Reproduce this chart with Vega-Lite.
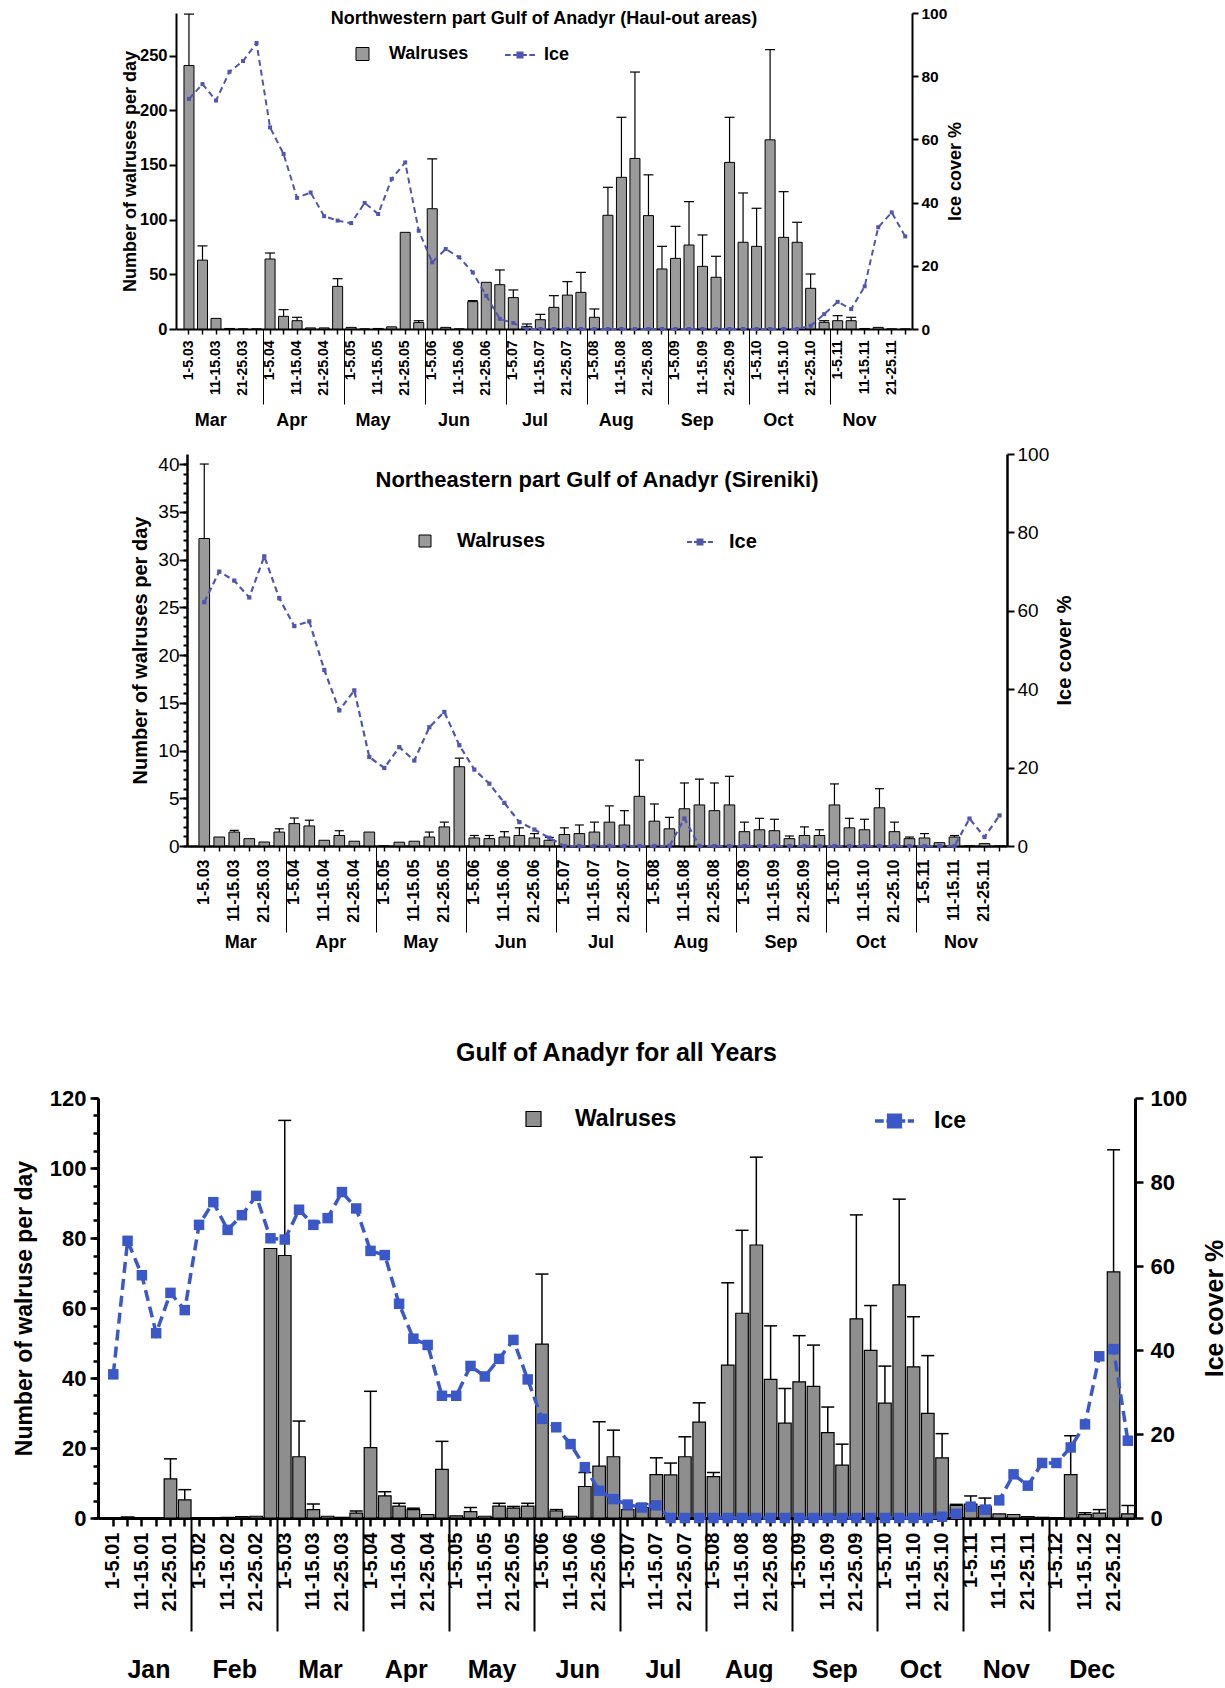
{
"$schema": "https://vega.github.io/schema/vega-lite/v6.json",
"background": "white",
"padding": {"left": 13, "top": 6, "right": 0, "bottom": 0},
"config": {
 "font": "Liberation Sans",
 "view": {"stroke": null},
 "axis": {"grid": false, "domainColor": "black", "tickColor": "black", "labelColor": "black", "titleColor": "black", "labelOverlap": false},
 "legend": {"labelColor": "black", "padding": 0},
 "title": {"color": "black"}
},
"datasets": {
"p1": [
{"pentad":"1-5.03","month":"Mar","walruses":241,"upper":288,"ice":72.8},
{"pentad":"6-10.03","month":"Mar","walruses":63,"upper":76,"ice":77.5},
{"pentad":"11-15.03","month":"Mar","walruses":9.7,"ice":72.3},
{"pentad":"16-20.03","month":"Mar","walruses":0.5,"ice":81.4},
{"pentad":"21-25.03","month":"Mar","walruses":0,"ice":84.8},
{"pentad":"26-31.03","month":"Mar","walruses":0,"ice":90.5},
{"pentad":"1-5.04","month":"Apr","walruses":64,"upper":69.5,"ice":63.8},
{"pentad":"6-10.04","month":"Apr","walruses":11.6,"upper":17.7,"ice":55.4},
{"pentad":"11-15.04","month":"Apr","walruses":7.6,"upper":10.7,"ice":41.5},
{"pentad":"16-20.04","month":"Apr","walruses":1,"ice":43.2},
{"pentad":"21-25.04","month":"Apr","walruses":1,"ice":35.7},
{"pentad":"26-30.04","month":"Apr","walruses":39,"upper":46,"ice":34.3},
{"pentad":"1-5.05","month":"May","walruses":1.5,"ice":33.5},
{"pentad":"6-10.05","month":"May","walruses":0,"ice":39.9},
{"pentad":"11-15.05","month":"May","walruses":0.5,"ice":36.4},
{"pentad":"16-20.05","month":"May","walruses":2,"ice":47.5},
{"pentad":"21-25.05","month":"May","walruses":88.4,"ice":52.7},
{"pentad":"26-31.05","month":"May","walruses":6,"upper":7.6,"ice":31.1},
{"pentad":"1-5.06","month":"Jun","walruses":110,"upper":155.5,"ice":21.1},
{"pentad":"6-10.06","month":"Jun","walruses":1.5,"ice":25.3},
{"pentad":"11-15.06","month":"Jun","walruses":0,"ice":22.7},
{"pentad":"16-20.06","month":"Jun","walruses":25,"upper":26,"ice":17.9},
{"pentad":"21-25.06","month":"Jun","walruses":42.7,"ice":10.5},
{"pentad":"26-30.06","month":"Jun","walruses":40.5,"upper":54,"ice":3.2},
{"pentad":"1-5.07","month":"Jul","walruses":28.7,"upper":35.7,"ice":1.9},
{"pentad":"6-10.07","month":"Jul","walruses":2.4,"upper":4.6,"ice":0},
{"pentad":"11-15.07","month":"Jul","walruses":8.5,"upper":13.4,"ice":0},
{"pentad":"16-20.07","month":"Jul","walruses":19.8,"upper":30.5,"ice":0},
{"pentad":"21-25.07","month":"Jul","walruses":31,"upper":43.3,"ice":0},
{"pentad":"26-31.07","month":"Jul","walruses":33.5,"upper":51.8,"ice":0},
{"pentad":"1-5.08","month":"Aug","walruses":10.7,"upper":18.3,"ice":0},
{"pentad":"6-10.08","month":"Aug","walruses":104,"upper":129.6,"ice":0},
{"pentad":"11-15.08","month":"Aug","walruses":138.7,"upper":193.6,"ice":0},
{"pentad":"16-20.08","month":"Aug","walruses":156,"upper":235,"ice":0},
{"pentad":"21-25.08","month":"Aug","walruses":103.7,"upper":141,"ice":0},
{"pentad":"26-31.08","month":"Aug","walruses":54.9,"upper":75.6,"ice":0},
{"pentad":"1-5.09","month":"Sep","walruses":64.6,"upper":93.9,"ice":0},
{"pentad":"6-10.09","month":"Sep","walruses":76.8,"upper":116.5,"ice":0},
{"pentad":"11-15.09","month":"Sep","walruses":57.3,"upper":86,"ice":0},
{"pentad":"16-20.09","month":"Sep","walruses":47.3,"upper":66.5,"ice":0},
{"pentad":"21-25.09","month":"Sep","walruses":152.4,"upper":193.6,"ice":0},
{"pentad":"26-30.09","month":"Sep","walruses":79.3,"upper":124.4,"ice":0},
{"pentad":"1-5.10","month":"Oct","walruses":75.6,"upper":110.4,"ice":0},
{"pentad":"6-10.10","month":"Oct","walruses":173,"upper":255.5,"ice":0},
{"pentad":"11-15.10","month":"Oct","walruses":83.8,"upper":125.6,"ice":0},
{"pentad":"16-20.10","month":"Oct","walruses":79.3,"upper":97.6,"ice":0},
{"pentad":"21-25.10","month":"Oct","walruses":37.2,"upper":50.3,"ice":1},
{"pentad":"26-31.10","month":"Oct","walruses":6.1,"upper":7.6,"ice":4.7},
{"pentad":"1-5.11","month":"Nov","walruses":7.6,"upper":12.2,"ice":8.6},
{"pentad":"6-10.11","month":"Nov","walruses":7.6,"upper":10.7,"ice":6.3},
{"pentad":"11-15.11","month":"Nov","walruses":0.5,"ice":13.5},
{"pentad":"16-20.11","month":"Nov","walruses":1.5,"ice":32.2},
{"pentad":"21-25.11","month":"Nov","walruses":0,"ice":36.9},
{"pentad":"26-30.11","month":"Nov","walruses":0,"ice":29.3}
],
"p2": [
{"pentad":"1-5.03","month":"Mar","walruses":32.2,"upper":40,"ice":62.2},
{"pentad":"6-10.03","month":"Mar","walruses":0.94,"ice":70},
{"pentad":"11-15.03","month":"Mar","walruses":1.46,"upper":1.64,"ice":67.7},
{"pentad":"16-20.03","month":"Mar","walruses":0.77,"ice":63.4},
{"pentad":"21-25.03","month":"Mar","walruses":0.42,"ice":73.9},
{"pentad":"26-31.03","month":"Mar","walruses":1.46,"upper":1.8,"ice":63.2},
{"pentad":"1-5.04","month":"Apr","walruses":2.34,"upper":2.93,"ice":56.1},
{"pentad":"6-10.04","month":"Apr","walruses":2.1,"upper":2.7,"ice":57.3},
{"pentad":"11-15.04","month":"Apr","walruses":0.6,"ice":44.9},
{"pentad":"16-20.04","month":"Apr","walruses":1.1,"upper":1.6,"ice":34.6},
{"pentad":"21-25.04","month":"Apr","walruses":0.5,"ice":39.7},
{"pentad":"26-30.04","month":"Apr","walruses":1.46,"ice":22.7},
{"pentad":"1-5.05","month":"May","walruses":0,"ice":19.9},
{"pentad":"6-10.05","month":"May","walruses":0.4,"ice":25.2},
{"pentad":"11-15.05","month":"May","walruses":0.5,"ice":21.8},
{"pentad":"16-20.05","month":"May","walruses":0.94,"upper":1.46,"ice":30.3},
{"pentad":"21-25.05","month":"May","walruses":2,"upper":2.5,"ice":34.2},
{"pentad":"26-31.05","month":"May","walruses":8.3,"upper":9.2,"ice":25.7},
{"pentad":"1-5.06","month":"Jun","walruses":0.84,"upper":1.1,"ice":19.5},
{"pentad":"6-10.06","month":"Jun","walruses":0.77,"upper":1.1,"ice":15.9},
{"pentad":"11-15.06","month":"Jun","walruses":0.94,"upper":1.5,"ice":11},
{"pentad":"16-20.06","month":"Jun","walruses":1.1,"upper":1.9,"ice":6.1},
{"pentad":"21-25.06","month":"Jun","walruses":0.84,"upper":1.3,"ice":4.2},
{"pentad":"26-30.06","month":"Jun","walruses":0.6,"upper":0.9,"ice":2.1},
{"pentad":"1-5.07","month":"Jul","walruses":1.2,"upper":1.9,"ice":0},
{"pentad":"6-10.07","month":"Jul","walruses":1.3,"upper":2.2,"ice":0},
{"pentad":"11-15.07","month":"Jul","walruses":1.46,"upper":2.5,"ice":0},
{"pentad":"16-20.07","month":"Jul","walruses":2.5,"upper":4.2,"ice":0},
{"pentad":"21-25.07","month":"Jul","walruses":2.2,"upper":3.7,"ice":0},
{"pentad":"26-31.07","month":"Jul","walruses":5.2,"upper":9,"ice":0},
{"pentad":"1-5.08","month":"Aug","walruses":2.6,"upper":4.4,"ice":0},
{"pentad":"6-10.08","month":"Aug","walruses":1.8,"upper":3,"ice":0},
{"pentad":"11-15.08","month":"Aug","walruses":3.9,"upper":6.6,"ice":7},
{"pentad":"16-20.08","month":"Aug","walruses":4.3,"upper":7,"ice":0},
{"pentad":"21-25.08","month":"Aug","walruses":3.7,"upper":6.6,"ice":0},
{"pentad":"26-31.08","month":"Aug","walruses":4.3,"upper":7.3,"ice":0},
{"pentad":"1-5.09","month":"Sep","walruses":1.5,"upper":2.5,"ice":0},
{"pentad":"6-10.09","month":"Sep","walruses":1.7,"upper":2.9,"ice":0},
{"pentad":"11-15.09","month":"Sep","walruses":1.6,"upper":2.8,"ice":0},
{"pentad":"16-20.09","month":"Sep","walruses":0.77,"upper":1.05,"ice":0},
{"pentad":"21-25.09","month":"Sep","walruses":1.1,"upper":2,"ice":0},
{"pentad":"26-30.09","month":"Sep","walruses":1.1,"upper":1.7,"ice":0},
{"pentad":"1-5.10","month":"Oct","walruses":4.3,"upper":6.5,"ice":0},
{"pentad":"6-10.10","month":"Oct","walruses":1.9,"upper":2.9,"ice":0},
{"pentad":"11-15.10","month":"Oct","walruses":1.7,"upper":2.8,"ice":0},
{"pentad":"16-20.10","month":"Oct","walruses":4,"upper":6,"ice":0},
{"pentad":"21-25.10","month":"Oct","walruses":1.5,"upper":2.5,"ice":0},
{"pentad":"26-31.10","month":"Oct","walruses":0.77,"upper":0.94,"ice":0},
{"pentad":"1-5.11","month":"Nov","walruses":0.84,"upper":1.3,"ice":0},
{"pentad":"6-10.11","month":"Nov","walruses":0.35,"ice":0},
{"pentad":"11-15.11","month":"Nov","walruses":0.94,"upper":1.1,"ice":0},
{"pentad":"16-20.11","month":"Nov","walruses":0,"ice":7},
{"pentad":"21-25.11","month":"Nov","walruses":0.25,"ice":2.3},
{"pentad":"26-30.11","month":"Nov","walruses":0,"ice":7.8}
],
"p3": [
{"pentad":"1-5.01","month":"Jan","walruses":0,"ice":34.2},
{"pentad":"6-10.01","month":"Jan","walruses":0.3,"ice":66},
{"pentad":"11-15.01","month":"Jan","walruses":0,"ice":57.8},
{"pentad":"16-20.01","month":"Jan","walruses":0,"ice":44},
{"pentad":"21-25.01","month":"Jan","walruses":11.2,"upper":16.9,"ice":53.6},
{"pentad":"26-31.01","month":"Jan","walruses":5.2,"upper":8.1,"ice":49.5},
{"pentad":"1-5.02","month":"Feb","walruses":0,"ice":69.8},
{"pentad":"6-10.02","month":"Feb","walruses":0,"ice":75.2},
{"pentad":"11-15.02","month":"Feb","walruses":0.2,"ice":68.6},
{"pentad":"16-20.02","month":"Feb","walruses":0.4,"ice":72.1},
{"pentad":"21-25.02","month":"Feb","walruses":0.5,"ice":76.7},
{"pentad":"26-28.02","month":"Feb","walruses":77,"ice":66.6},
{"pentad":"1-5.03","month":"Mar","walruses":75,"upper":113.6,"ice":66.3},
{"pentad":"6-10.03","month":"Mar","walruses":17.5,"upper":27.7,"ice":73.4},
{"pentad":"11-15.03","month":"Mar","walruses":2.4,"upper":4,"ice":69.8},
{"pentad":"16-20.03","month":"Mar","walruses":0.5,"ice":71.4},
{"pentad":"21-25.03","month":"Mar","walruses":0.2,"ice":77.6},
{"pentad":"26-31.03","month":"Mar","walruses":1.4,"upper":2,"ice":73.7},
{"pentad":"1-5.04","month":"Apr","walruses":20.1,"upper":36.2,"ice":63.6},
{"pentad":"6-10.04","month":"Apr","walruses":6.3,"upper":7.5,"ice":62.6},
{"pentad":"11-15.04","month":"Apr","walruses":3.4,"upper":4.2,"ice":51},
{"pentad":"16-20.04","month":"Apr","walruses":2.4,"upper":2.8,"ice":42.7},
{"pentad":"21-25.04","month":"Apr","walruses":1,"ice":41.2},
{"pentad":"26-30.04","month":"Apr","walruses":13.9,"upper":21.9,"ice":29.1},
{"pentad":"1-5.05","month":"May","walruses":0.6,"ice":29.1},
{"pentad":"6-10.05","month":"May","walruses":1.8,"upper":3,"ice":36.2},
{"pentad":"11-15.05","month":"May","walruses":0.5,"ice":33.7},
{"pentad":"16-20.05","month":"May","walruses":3.4,"upper":4.2,"ice":37.9},
{"pentad":"21-25.05","month":"May","walruses":2.8,"upper":3.3,"ice":42.4},
{"pentad":"26-31.05","month":"May","walruses":3.4,"upper":4.2,"ice":33},
{"pentad":"1-5.06","month":"Jun","walruses":49.7,"upper":69.7,"ice":23.6},
{"pentad":"6-10.06","month":"Jun","walruses":2,"upper":2.4,"ice":21.6},
{"pentad":"11-15.06","month":"Jun","walruses":0.5,"ice":17.6},
{"pentad":"16-20.06","month":"Jun","walruses":9,"upper":13,"ice":12.1},
{"pentad":"21-25.06","month":"Jun","walruses":14.8,"upper":27.5,"ice":6.5},
{"pentad":"26-30.06","month":"Jun","walruses":17.5,"upper":25.1,"ice":4.5},
{"pentad":"1-5.07","month":"Jul","walruses":2.4,"ice":3.2},
{"pentad":"6-10.07","month":"Jul","walruses":3,"upper":4,"ice":2.5},
{"pentad":"11-15.07","month":"Jul","walruses":12.4,"upper":17.2,"ice":3},
{"pentad":"16-20.07","month":"Jul","walruses":12.3,"upper":15.7,"ice":0},
{"pentad":"21-25.07","month":"Jul","walruses":17.5,"upper":23.2,"ice":0},
{"pentad":"26-31.07","month":"Jul","walruses":27.4,"upper":32.9,"ice":0},
{"pentad":"1-5.08","month":"Aug","walruses":11.8,"upper":13,"ice":0},
{"pentad":"6-10.08","month":"Aug","walruses":43.7,"upper":67.2,"ice":0},
{"pentad":"11-15.08","month":"Aug","walruses":58.5,"upper":82.2,"ice":0},
{"pentad":"16-20.08","month":"Aug","walruses":78,"upper":103.1,"ice":0},
{"pentad":"21-25.08","month":"Aug","walruses":39.6,"upper":54.9,"ice":0},
{"pentad":"26-31.08","month":"Aug","walruses":27.1,"upper":37,"ice":0},
{"pentad":"1-5.09","month":"Sep","walruses":38.9,"upper":52.1,"ice":0},
{"pentad":"6-10.09","month":"Sep","walruses":37.6,"upper":49.4,"ice":0},
{"pentad":"11-15.09","month":"Sep","walruses":24.4,"upper":31.7,"ice":0},
{"pentad":"16-20.09","month":"Sep","walruses":15.1,"upper":21.1,"ice":0},
{"pentad":"21-25.09","month":"Sep","walruses":56.9,"upper":86.6,"ice":0},
{"pentad":"26-30.09","month":"Sep","walruses":47.9,"upper":60.7,"ice":0},
{"pentad":"1-5.10","month":"Oct","walruses":32.8,"upper":43.4,"ice":0},
{"pentad":"6-10.10","month":"Oct","walruses":66.6,"upper":91.1,"ice":0},
{"pentad":"11-15.10","month":"Oct","walruses":43.2,"upper":57.5,"ice":0},
{"pentad":"16-20.10","month":"Oct","walruses":29.9,"upper":46.4,"ice":0},
{"pentad":"21-25.10","month":"Oct","walruses":17.2,"upper":24.1,"ice":0.3},
{"pentad":"26-31.10","month":"Oct","walruses":3.6,"upper":3.9,"ice":1},
{"pentad":"1-5.11","month":"Nov","walruses":4,"upper":6.3,"ice":2.7},
{"pentad":"6-10.11","month":"Nov","walruses":3.3,"upper":5.7,"ice":2},
{"pentad":"11-15.11","month":"Nov","walruses":1.2,"ice":4.2},
{"pentad":"16-20.11","month":"Nov","walruses":1,"ice":10.4},
{"pentad":"21-25.11","month":"Nov","walruses":0.4,"ice":7.7},
{"pentad":"26-30.11","month":"Nov","walruses":0.2,"ice":13.1},
{"pentad":"1-5.12","month":"Dec","walruses":0,"ice":13.1},
{"pentad":"6-10.12","month":"Dec","walruses":12.4,"upper":23.5,"ice":16.8},
{"pentad":"11-15.12","month":"Dec","walruses":1,"upper":1.5,"ice":22.3},
{"pentad":"16-20.12","month":"Dec","walruses":1.4,"upper":2.4,"ice":38.5},
{"pentad":"21-25.12","month":"Dec","walruses":70.3,"upper":105.2,"ice":40.2},
{"pentad":"26-31.12","month":"Dec","walruses":1.2,"upper":3.6,"ice":18.4}
]
},
"resolve": {"scale": {"fill": "independent", "stroke": "independent"}, "legend": {"fill": "independent", "stroke": "independent"}},
"spacing": 90,
"vconcat": [
{
 "spacing": 15,
 "resolve": {"scale": {"fill": "independent", "stroke": "independent"}, "legend": {"fill": "independent", "stroke": "independent"}},
 "vconcat": [
 {
  "spacing": 0,
  "resolve": {"scale": {"fill": "independent", "stroke": "independent"}, "legend": {"fill": "independent", "stroke": "independent"}},
  "hconcat": [
  {"width": 23, "height": 1, "data": {"values": []}, "mark": "point"},
  {
   "width": 736, "height": 316,
   "data": {"name": "p1"},
   "title": {"text": "Northwestern part Gulf of Anadyr (Haul-out areas)", "fontSize": 18, "fontWeight": "bold", "offset": -22},
   "layer": [
    {
     "layer": [
      {
       "layer": [
        {
         "mark": {"type": "bar", "stroke": "black", "strokeWidth": 1, "width": {"band": 0.74}},
         "encoding": {
          "x": {"field": "pentad", "type": "nominal", "sort": null,
                "scale": {"type": "band", "paddingInner": 0, "paddingOuter": 0.23, "align": 1},
                "axis": {"orient": "bottom", "title": null, "labelAngle": -90, "labelAlign": "right", "labelBaseline": "middle",
                         "labelExpr": "(slice(datum.value,0,2)=='6-'||slice(datum.value,0,3)=='16-'||slice(datum.value,0,3)=='26-')?'':datum.value",
                         "labelFontSize": 14, "labelFontWeight": "bold", "labelOverlap": false, "labelPadding": 6,
                         "tickSize": 5, "tickWidth": 1.5, "domainWidth": 2}},
          "y": {"field": "walruses", "type": "quantitative", "scale": {"domain": [0, 289], "nice": false},
                "axis": {"orient": "left", "title": "Number of walruses per day", "values": [0, 50, 100, 150, 200, 250],
                         "tickSize": 7, "tickWidth": 2, "domainWidth": 2, "labelPadding": 2, "labelFontSize": 16.5, "labelFontWeight": "bold",
                         "titleFontSize": 18, "titleFontWeight": "bold", "titlePadding": 0}},
          "fill": {"datum": "Walruses", "type": "nominal", "scale": {"domain": ["Walruses"], "range": ["#9a9a9a"]},
                   "legend": {"title": null, "orient": "none", "legendX": 177.5, "legendY": 32, "symbolType": "square", "symbolSize": 169,
                              "symbolStrokeColor": "black", "symbolStrokeWidth": 1, "labelFontSize": 18, "labelFontWeight": "bold", "labelOffset": 17.5}}
         }
        },
        {
         "transform": [{"filter": "isValid(datum.upper)"}],
         "mark": {"type": "rule", "color": "black", "strokeWidth": 1.2},
         "encoding": {
          "x": {"field": "pentad", "type": "nominal", "sort": null},
          "y": {"field": "walruses", "type": "quantitative"},
          "y2": {"field": "upper"}
         }
        },
        {
         "transform": [{"filter": "isValid(datum.upper)"}],
         "mark": {"type": "tick", "color": "black", "thickness": 1.2, "size": 10, "opacity": 1},
         "encoding": {
          "x": {"field": "pentad", "type": "nominal", "sort": null},
          "y": {"field": "upper", "type": "quantitative"}
         }
        }
       ]
      },
      {
       "layer": [
        {
         "mark": {"type": "line", "strokeDash": [6, 4], "strokeWidth": 2},
         "encoding": {
          "x": {"field": "pentad", "type": "nominal", "sort": null},
          "y": {"field": "ice", "type": "quantitative", "scale": {"domain": [0, 100], "nice": false},
                "axis": {"orient": "right", "title": "Ice cover %", "values": [0, 10, 20, 30, 40, 50, 60, 70, 80, 90, 100],
                         "labelExpr": "datum.value % 20 === 0 ? datum.label : ''",
                         "tickSize": {"condition": {"test": "datum.value % 20 !== 0", "value": 4}, "value": 6},
                         "tickWidth": 2, "domainWidth": 2, "labelPadding": 3, "labelFontSize": 15.5, "labelFontWeight": "bold",
                         "titleFontSize": 18, "titleFontWeight": "bold", "titleAngle": 270, "titleBaseline": "top", "titlePadding": 0}},
          "stroke": {"datum": "Ice", "type": "nominal", "scale": {"domain": ["Ice"], "range": ["#5055b0"]},
                     "legend": {"title": null, "orient": "none", "legendX": 328, "legendY": 26,
                                "symbolType": "M-1,0H-0.62M-0.46,0H-0.17M0.17,0H0.46M0.62,0H1M-0.17,-0.17H0.17V0.17H-0.17Z",
                                "symbolSize": 900, "symbolStrokeWidth": 2, "symbolFillColor": "#5055b0", "symbolStrokeColor": "#5055b0",
                                "labelFontSize": 18, "labelFontWeight": "bold", "labelOffset": 8}}
         }
        },
        {
         "mark": {"type": "square", "size": 16, "color": "#5055b0", "opacity": 1, "filled": true},
         "encoding": {
          "x": {"field": "pentad", "type": "nominal", "sort": null},
          "y": {"field": "ice", "type": "quantitative"}
         }
        }
       ]
      }
     ],
     "resolve": {"scale": {"y": "independent"}}
    },
    {
     "mark": {"type": "rule", "opacity": 0},
     "encoding": {
      "x": {"field": "month", "type": "nominal", "sort": null,
            "scale": {"type": "band", "paddingInner": 0, "paddingOuter": 0.03833, "align": 1},
            "axis": {"orient": "bottom", "title": null, "domain": false, "bandPosition": 0, "tickSize": 75, "tickWidth": 1,
                     "tickOpacity": {"condition": {"test": "datum.value === 'Mar'", "value": 0}, "value": 1},
                     "labelAngle": 0, "labelAlign": "center", "labelBaseline": "top", "labelOffset": -12, "labelPadding": 7.3,
                     "labelFontSize": 18, "labelFontWeight": "bold", "labelOverlap": false}}
     }
    }
   ],
   "resolve": {"scale": {"x": "independent"}}
  }
  ]
 },
 {
  "spacing": 0,
  "resolve": {"scale": {"fill": "independent", "stroke": "independent"}, "legend": {"fill": "independent", "stroke": "independent"}},
  "hconcat": [
  {"width": 32, "height": 1, "data": {"values": []}, "mark": "point"},
  {
   "width": 820, "height": 392,
   "data": {"name": "p2"},
   "title": {"text": "Northeastern part Gulf of Anadyr (Sireniki)", "fontSize": 22, "fontWeight": "bold", "offset": -47},
   "layer": [
    {
     "layer": [
      {
       "layer": [
        {
         "mark": {"type": "bar", "stroke": "black", "strokeWidth": 1, "width": {"band": 0.71}},
         "encoding": {
          "x": {"field": "pentad", "type": "nominal", "sort": null,
                "scale": {"type": "band", "paddingInner": 0, "paddingOuter": 0.325, "align": 1},
                "axis": {"orient": "bottom", "title": null, "labelAngle": -90, "labelAlign": "right", "labelBaseline": "middle",
                         "labelExpr": "(slice(datum.value,0,2)=='6-'||slice(datum.value,0,3)=='16-'||slice(datum.value,0,3)=='26-')?'':datum.value",
                         "labelFontSize": 16, "labelFontWeight": "bold", "labelOverlap": false, "labelPadding": 8,
                         "tickSize": 5, "tickWidth": 1.5, "domainWidth": 2.5}},
          "y": {"field": "walruses", "type": "quantitative", "scale": {"domain": [0, 41.05], "nice": false},
                "axis": {"orient": "left", "title": "Number of walruses per day",
                         "values": [0, 5, 10, 15, 20, 25, 30, 35, 40],
                         "tickSize": 8, "tickWidth": 2, "domainWidth": 2.5, "labelPadding": 0, "labelFontSize": 19, "labelFontWeight": "normal",
                         "titleFontSize": 20, "titleFontWeight": "bold", "titlePadding": 7}},
          "fill": {"datum": "Walruses", "type": "nominal", "scale": {"domain": ["Walruses"], "range": ["#9a9a9a"]},
                   "legend": {"title": null, "orient": "none", "legendX": 228, "legendY": 77, "symbolType": "square", "symbolSize": 144,
                              "symbolStrokeColor": "black", "symbolStrokeWidth": 1, "labelFontSize": 20, "labelFontWeight": "bold", "labelOffset": 22}}
         }
        },
        {
         "transform": [{"filter": "isValid(datum.upper)"}],
         "mark": {"type": "rule", "color": "black", "strokeWidth": 1.2},
         "encoding": {
          "x": {"field": "pentad", "type": "nominal", "sort": null},
          "y": {"field": "walruses", "type": "quantitative"},
          "y2": {"field": "upper"}
         }
        },
        {
         "transform": [{"filter": "isValid(datum.upper)"}],
         "mark": {"type": "tick", "color": "black", "thickness": 1.2, "size": 9, "opacity": 1},
         "encoding": {
          "x": {"field": "pentad", "type": "nominal", "sort": null},
          "y": {"field": "upper", "type": "quantitative"}
         }
        }
       ]
      },
      {
       "layer": [
        {
         "mark": {"type": "line", "strokeDash": [6, 4], "strokeWidth": 2.2},
         "encoding": {
          "x": {"field": "pentad", "type": "nominal", "sort": null},
          "y": {"field": "ice", "type": "quantitative", "scale": {"domain": [0, 100], "nice": false},
                "axis": {"orient": "right", "title": "Ice cover %", "values": [0, 10, 20, 30, 40, 50, 60, 70, 80, 90, 100],
                         "labelExpr": "datum.value % 20 === 0 ? datum.label : ''",
                         "tickSize": {"condition": {"test": "datum.value % 20 !== 0", "value": 3}, "value": 7},
                         "tickWidth": 2, "domainWidth": 2.5, "labelPadding": 3, "labelFontSize": 19, "labelFontWeight": "normal",
                         "titleFontSize": 20, "titleFontWeight": "bold", "titleAngle": 270, "titleBaseline": "top", "titlePadding": 6}},
          "stroke": {"datum": "Ice", "type": "nominal", "scale": {"domain": ["Ice"], "range": ["#5055b0"]},
                     "legend": {"title": null, "orient": "none", "legendX": 499, "legendY": 74,
                                "symbolType": "M-1,0H-0.62M-0.46,0H-0.19M0.19,0H0.46M0.62,0H1M-0.19,-0.19H0.19V0.19H-0.19Z",
                                "symbolSize": 676, "symbolStrokeWidth": 2, "symbolFillColor": "#5055b0", "symbolStrokeColor": "#5055b0",
                                "labelFontSize": 20, "labelFontWeight": "bold", "labelOffset": 15}}
         }
        },
        {
         "mark": {"type": "square", "size": 18, "color": "#5055b0", "opacity": 1, "filled": true},
         "encoding": {
          "x": {"field": "pentad", "type": "nominal", "sort": null},
          "y": {"field": "ice", "type": "quantitative"}
         }
        }
       ]
      }
     ],
     "resolve": {"scale": {"y": "independent"}}
    },
    {
     "mark": {"type": "point", "opacity": 0},
     "encoding": {
      "x": {"field": "month", "type": "nominal", "sort": null,
            "scale": {"type": "band", "paddingInner": 0, "paddingOuter": 0.05417, "align": 1},
            "axis": {"orient": "bottom", "title": null, "domain": false, "bandPosition": 0, "tickSize": 86, "tickWidth": 1,
                     "tickOpacity": {"condition": {"test": "datum.value === 'Mar'", "value": 0}, "value": 1},
                     "labelAngle": 0, "labelAlign": "center", "labelBaseline": "top", "labelOffset": -1, "labelPadding": 1,
                     "labelFontSize": 18, "labelFontWeight": "bold", "labelOverlap": false}},
      "y": {"field": "walruses", "type": "quantitative", "scale": {"domain": [0, 41.05], "nice": false},
            "axis": {"orient": "left", "title": null, "labels": false, "domain": false, "tickSize": 4, "tickWidth": 2,
                     "values": [0,1,2,3,4,5,6,7,8,9,10,11,12,13,14,15,16,17,18,19,20,21,22,23,24,25,26,27,28,29,30,31,32,33,34,35,36,37,38,39,40]}}
     }
    }
   ],
   "resolve": {"scale": {"x": "independent"}}
  }
  ]
 }
 ]
},
{
 "width": 1037, "height": 420,
 "data": {"name": "p3"},
 "title": {"text": "Gulf of Anadyr for all Years", "fontSize": 25, "fontWeight": "bold", "offset": 21},
 "layer": [
  {
   "layer": [
    {
     "layer": [
      {
       "mark": {"type": "bar", "stroke": "black", "strokeWidth": 1.2, "width": {"band": 0.88}},
       "encoding": {
        "x": {"field": "pentad", "type": "nominal", "sort": null,
              "scale": {"type": "band", "paddingInner": 0, "paddingOuter": 0.285, "align": 1},
              "axis": {"orient": "bottom", "title": null, "labelAngle": -90, "labelAlign": "right", "labelBaseline": "middle",
                       "labelExpr": "(slice(datum.value,0,2)=='6-'||slice(datum.value,0,3)=='16-'||slice(datum.value,0,3)=='26-')?'':datum.value",
                       "labelFontSize": 20, "labelFontWeight": "bold", "labelOverlap": false, "labelPadding": 6,
                       "tickSize": 8, "tickWidth": 2.5, "domainWidth": 3}},
        "y": {"field": "walruses", "type": "quantitative", "scale": {"domain": [0, 120], "nice": false},
              "axis": {"orient": "left", "title": "Number of walruse per day",
                       "values": [0, 20, 40, 60, 80, 100, 120],
                       "tickSize": 8, "tickWidth": 2.5, "domainWidth": 3, "labelPadding": 4, "labelFontSize": 22, "labelFontWeight": "bold",
                       "titleFontSize": 23, "titleFontWeight": "bold", "titlePadding": 12.8}},
        "fill": {"datum": "Walruses", "type": "nominal", "scale": {"domain": ["Walruses"], "range": ["#8e8e8e"]},
                 "legend": {"title": null, "orient": "none", "legendX": 424, "legendY": 9.5, "symbolType": "square", "symbolSize": 225,
                            "symbolStrokeColor": "black", "symbolStrokeWidth": 1.2, "labelFontSize": 23, "labelFontWeight": "bold", "labelOffset": 30}}
       }
      },
      {
       "transform": [{"filter": "isValid(datum.upper)"}],
       "mark": {"type": "rule", "color": "black", "strokeWidth": 1.5},
       "encoding": {
        "x": {"field": "pentad", "type": "nominal", "sort": null},
        "y": {"field": "walruses", "type": "quantitative"},
        "y2": {"field": "upper"}
       }
      },
      {
       "transform": [{"filter": "isValid(datum.upper)"}],
       "mark": {"type": "tick", "color": "black", "thickness": 1.5, "size": 13, "opacity": 1},
       "encoding": {
        "x": {"field": "pentad", "type": "nominal", "sort": null},
        "y": {"field": "upper", "type": "quantitative"}
       }
      }
     ]
    },
    {
     "layer": [
      {
       "mark": {"type": "line", "strokeDash": [11, 6], "strokeWidth": 3.5},
       "encoding": {
        "x": {"field": "pentad", "type": "nominal", "sort": null},
        "y": {"field": "ice", "type": "quantitative", "scale": {"domain": [0, 100], "nice": false},
              "axis": {"orient": "right", "title": "Ice cover %", "values": [0, 20, 40, 60, 80, 100],
                       "tickSize": 8, "tickWidth": 2.5, "domainWidth": 3, "labelPadding": 7, "labelFontSize": 22, "labelFontWeight": "bold",
                       "titleFontSize": 25, "titleFontWeight": "bold", "titleAngle": 270, "titleBaseline": "top", "titlePadding": 15.5}},
        "stroke": {"datum": "Ice", "type": "nominal", "scale": {"domain": ["Ice"], "range": ["#3a58c8"]},
                   "legend": {"title": null, "orient": "none", "legendX": 775, "legendY": 1.5,
                              "symbolType": "M-1,0H-0.55M-0.42,0H-0.3M0.3,0H0.55M0.68,0H1M-0.3,-0.3H0.3V0.3H-0.3Z",
                              "symbolSize": 1521, "symbolStrokeWidth": 3.5, "symbolFillColor": "#3a58c8", "symbolStrokeColor": "#3a58c8",
                              "labelFontSize": 23, "labelFontWeight": "bold", "labelOffset": 18}}
       }
      },
      {
       "mark": {"type": "square", "size": 110, "color": "#3a58c8", "opacity": 1, "filled": true},
       "encoding": {
        "x": {"field": "pentad", "type": "nominal", "sort": null},
        "y": {"field": "ice", "type": "quantitative"}
       }
      }
     ]
    }
   ],
   "resolve": {"scale": {"y": "independent"}}
  },
  {
   "mark": {"type": "point", "opacity": 0},
   "encoding": {
    "x": {"field": "month", "type": "nominal", "sort": null,
          "scale": {"type": "band", "paddingInner": 0, "paddingOuter": 0.0475, "align": 1},
          "axis": {"orient": "bottom", "title": null, "domain": false, "bandPosition": 0, "tickSize": 113, "tickWidth": 2,
                   "tickOpacity": {"condition": {"test": "datum.value === 'Jan'", "value": 0}, "value": 1},
                   "labelAngle": 0, "labelAlign": "center", "labelBaseline": "top", "labelOffset": 0, "labelPadding": 26,
                   "labelFontSize": 25, "labelFontWeight": "bold", "labelOverlap": false}},
    "y": {"field": "walruses", "type": "quantitative", "scale": {"domain": [0, 120], "nice": false},
          "axis": {"orient": "left", "title": null, "labels": false, "domain": false, "tickSize": 5, "tickWidth": 2.5,
                   "values": [0,5,10,15,20,25,30,35,40,45,50,55,60,65,70,75,80,85,90,95,100,105,110,115,120]}}
   }
  }
 ],
 "resolve": {"scale": {"x": "independent"}}
}
]
}
